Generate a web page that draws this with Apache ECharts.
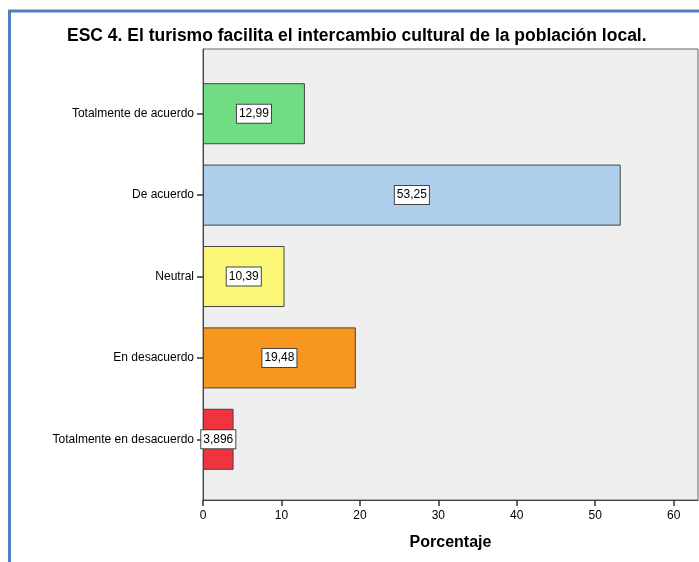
<!DOCTYPE html>
<html>
<head>
<meta charset="utf-8">
<script src="https://cdn.jsdelivr.net/npm/echarts@6/dist/echarts.min.js"></script>
<style>
html, body { margin: 0; padding: 0; background: #fff; }
#chart { width: 699px; height: 562px; }
</style>
</head>
<body>
<div id="chart"></div>
<script>
// respuestas de la escala (de arriba hacia abajo)
var categorias = ['Totalmente de acuerdo', 'De acuerdo', 'Neutral', 'En desacuerdo', 'Totalmente en desacuerdo'];
var porcentajes = [12.99, 53.25, 10.39, 19.48, 3.896];
var colores = ['#70DD84', '#ADCFEB', '#FAF776', '#F7971E', '#EF333F'];
var ticksX = [0, 10, 20, 30, 40, 50, 60];

var fuente = 'Liberation Sans, Arial, sans-serif';

var datos = [];
for (var i = 0; i < porcentajes.length; i++) {
	datos.push({ value: porcentajes[i], itemStyle: { color: colores[i] } });
}

var myChart = echarts.init(document.getElementById('chart'));

var option = {
	animation: false,
	backgroundColor: '#fff',
	title: {
		text: 'ESC 4. El turismo facilita el intercambio cultural de la población local.',
		left: 62,
		top: 22,
		textStyle: { fontFamily: fuente, fontSize: 17.5, fontWeight: 'bold', color: '#000' }
	},
	graphic: [{
		type: 'polyline',
		shape: { points: [[9.5, 562], [9.5, 11], [699, 11]] },
		style: { stroke: '#4F81BD', lineWidth: 3, fill: null }
	}],
	grid: [
		// marco y fondo gris
		{ left: 203, right: 1, top: 49, bottom: 62, show: true, backgroundColor: '#EFEFEF', borderColor: '#666', borderWidth: 1 },
		// barras
		{ left: 203, right: 1, top: 73, bottom: 82 }
	],
	xAxis: [
		{
			gridIndex: 0,
			type: 'value',
			min: 0,
			max: 63.1,
			interval: 10,
			name: 'Porcentaje',
			nameLocation: 'middle',
			nameGap: 35,
			nameTextStyle: { fontFamily: fuente, fontSize: 16, fontWeight: 'bold', color: '#000' },
			axisLine: { show: true, lineStyle: { color: '#444', width: 1 } },
			axisTick: { show: true, length: 6, lineStyle: { color: '#333', width: 1.5 }, customValues: ticksX },
			axisLabel: { fontFamily: fuente, fontSize: 12, color: '#000', margin: 10, customValues: ticksX },
			splitLine: { show: false }
		},
		{ gridIndex: 1, type: 'value', min: 0, max: 63.1, show: false }
	],
	yAxis: [
		{
			gridIndex: 0,
			type: 'value',
			axisLine: { show: true, lineStyle: { color: '#444', width: 1 } },
			axisTick: { show: false },
			axisLabel: { show: false },
			splitLine: { show: false }
		},
		{
			gridIndex: 1,
			type: 'category',
			inverse: true,
			data: categorias,
			axisLine: { show: false },
			axisTick: { show: true, alignWithLabel: true, length: 6, lineStyle: { color: '#333', width: 1.5 } },
			axisLabel: { fontFamily: fuente, fontSize: 12, color: '#000', margin: 9 }
		}
	],
	series: [{
		type: 'bar',
		xAxisIndex: 1,
		yAxisIndex: 1,
		barWidth: '75%',
		data: datos,
		itemStyle: { borderColor: '#444', borderWidth: 1 },
		label: {
			show: true,
			position: 'inside',
			fontFamily: fuente,
			fontSize: 12,
			color: '#000',
			backgroundColor: '#fff',
			borderColor: '#444',
			borderWidth: 1,
			padding: [4, 2, 2, 2],
			formatter: function (p) { return String(p.value).replace('.', ','); }
		}
	}]
};

myChart.setOption(option);
</script>
</body>
</html>
